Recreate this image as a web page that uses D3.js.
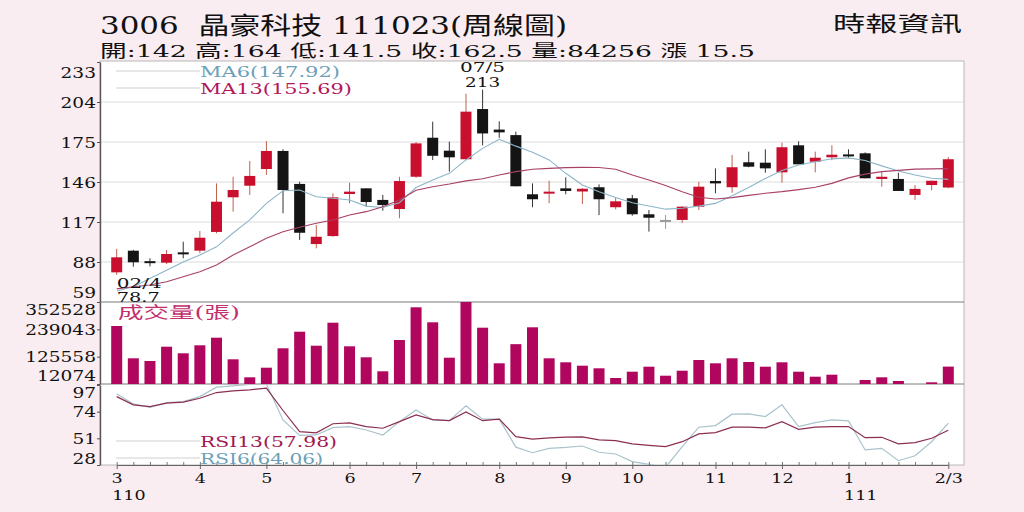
<!DOCTYPE html>
<html>
<head>
<meta charset="utf-8">
<script src="https://cdn.jsdelivr.net/npm/d3@7"></script>
<style>
    html, body { margin: 0; padding: 0; background: #f9edf1; }
    svg { display: block; }
</style>
</head>
<body>
<div class="svg-container"></div>
<script>
// Weekly candles, oldest first
const opens  = [80.5, 96.2, 88.6, 87.5, 95.0, 96.2, 109.8, 134.9, 143.3, 155.4,
                168.5, 144.6, 101, 106.8, 137.3, 141.4, 133, 126.4, 149.8, 178.1,
                168.7, 162.5, 198.9, 184, 180, 137.1, 137.8, 141.4, 139.1, 142.2,
                127.7, 134.2, 122.6, 118.5, 118.5, 128.1, 146.7, 142.2, 160.3, 160,
                153, 172.6, 160.7, 163.9, 166, 166.8, 148.2, 148.2, 136.6, 143.8, 142];
const highs  = [97.5, 96.8, 90.7, 96.7, 102.7, 110.5, 145, 149.8, 161.2, 175.7,
                169.7, 146.2, 114.8, 137.8, 145.5, 141.4, 136.6, 149.8, 175, 189.7,
                175.2, 210, 213, 190, 182.5, 145, 146.9, 149.4, 141.5, 144.3,
                134.4, 136.6, 125.7, 122, 128.5, 146.2, 155.9, 165.6, 168, 169.7,
                174.5, 175.5, 168, 172.6, 169.7, 167.5, 153.5, 152.7, 143.8, 147, 164];
const lows   = [78.7, 84.6, 84.8, 86.5, 90.7, 94.3, 108.8, 124.5, 136.6, 151.1,
                123.3, 104, 97.9, 106.3, 130.6, 128, 125.2, 119.7, 149, 161.9,
                153.5, 161.9, 172.6, 178, 142.9, 127.7, 130.6, 137.1, 130, 122,
                126.2, 121.6, 110, 112, 116.3, 125.7, 137.8, 138.2, 156.7, 152.7,
                145.5, 158.8, 153, 161.9, 163.2, 148.7, 142.6, 139.5, 133, 140, 141.5];
const closes = [91.4, 87.8, 88.0, 93.8, 94.4, 105.6, 131.7, 140.2, 150.4, 168.5,
                140.2, 109.2, 106.3, 134.9, 139, 131.5, 129.3, 146.7, 174, 165,
                163.9, 197, 181.2, 182, 142.9, 133.5, 139, 139.5, 141.1, 133.5,
                132, 122.6, 120.1, 118.5, 128.1, 142.6, 145, 156.7, 157.1, 155.9,
                171.2, 158.8, 163.6, 165.8, 165, 148.7, 149.8, 139.5, 141, 146.9, 162.5];

// Volume (張)
const volumes = [252890, 118780, 107570, 166940, 139540, 172750, 204300, 114630, 39890, 79750,
                 160300, 229220, 171090, 266580, 168600, 122930, 64800, 194760, 330530, 268240,
                 121270, 352528, 245830, 98020, 177500, 247490, 118780, 102170, 88050, 77260,
                 36990, 63140, 83900, 46540, 67300, 111720, 98020, 118780, 103420, 83900,
                 102170, 63140, 42380, 50690, 9800, 28680, 39890, 24530, 9500, 19130, 84256];

// Moving averages
const ma6  = [67, 70, 76, 82, 88, 93, 99, 109, 118.5, 130.5,
              139.7, 140.2, 135.3, 134.2, 133, 128.5, 127.5, 131, 142, 147.5,
              152.3, 162, 170.4, 177, 172, 167.5, 162, 152.3, 143.8, 139,
              134.7, 131, 128.6, 126.3, 127, 128.5, 130.5, 136, 142, 148.6,
              154.3, 158.3, 160.7, 162.8, 163.5, 161.6, 157.7, 154, 151.1, 148.7, 147.92];
const ma13 = [68.5, 70.1, 71.3, 73.7, 77.3, 81, 85.8, 93.1, 99.1, 105.2,
              110, 113.2, 116.1, 118.5, 122.1, 124.5, 128.1, 133, 140, 142.6,
              144.5, 146.8, 148.4, 151.1, 153.5, 155.2, 155.9, 156.4, 156.6, 156.5,
              155.3, 151.1, 147.5, 143.5, 139, 135, 133.7, 134.7, 136.3, 137.8,
              139, 140.5, 142.2, 145, 149, 151.7, 153.5, 154.4, 155.3, 155.5, 155.69];

// RSI
const rsi6  = [89.4, 80.7, 77.8, 81.8, 82.7, 87, 95.1, 96.3, 97.6, 97.8,
               66.9, 53.5, 53.9, 60.2, 61.1, 58.2, 53.9, 65.4, 75.5, 66.9,
               66.3, 79, 67.5, 67.5, 43.4, 38.6, 42.4, 43.2, 44.4, 39,
               37.5, 30.9, 28.5, 26, 43.8, 60.6, 62, 71.8, 72.1, 69.8,
               79.9, 61.1, 64.6, 66.9, 66, 41, 42.4, 31.7, 36, 48.1, 64.06];
const rsi13 = [87, 79.9, 78.4, 81.3, 82.2, 85.6, 90.5, 92, 92.8, 94.3,
               75, 56.8, 55.8, 63.6, 64.3, 61.1, 59.7, 65.4, 71.2, 67.2,
               66.3, 73.7, 66.2, 67.6, 52.5, 50.4, 51.4, 52, 52.2, 49.6,
               49, 46.2, 45, 43.8, 48.1, 54.8, 55.9, 60.6, 60.6, 60,
               65.4, 58.8, 60.6, 61.1, 61.1, 51.6, 51.9, 46.2, 47.3, 51.1, 57.98];

// Tick labels
const priceTicks  = [59, 88, 117, 146, 175, 204, 233];
const volumeTicks = [12074, 125558, 239043, 352528];
const rsiTicks    = [28, 51, 74, 97];
const monthTicks  = [0, 5, 9, 14, 18, 23, 27, 31, 36, 40, 44, 50];
const monthLabels = ['3', '4', '5', '6', '7', '8', '9', '10', '11', '12', '1', '2/3'];
const yearLabels  = ['110', '', '', '', '', '', '', '', '', '', '111', ''];

/**
 * Chart Manager
 *          draws the weekly candle chart with volume and RSI panels
 */
const chartManager = (() => {
    const SCREEN = { WIDTH: 1024, HEIGHT: 512 };
    const PLOT = { LEFT: 100, RIGHT: 964, TOP: 61, PRICE: 302, VOL: 384, RSI: 465 };
    const SERIF = '"DejaVu Serif", "Noto Sans CJK TC", serif';

    const COLOR = {
        up: '#c8102e', down: '#141414', flat: '#9a9a9a',
        upWick: '#c0604a', downWick: '#333',
        volume: '#b1065e',
        ma6: '#8bb6c8', ma13: '#a84068',
        rsi6: '#a9c3cc', rsi13: '#8c2f52'
    };

    const weeks = d3.range(closes.length);

    const x = d3.scalePoint().domain(weeks).range([116.7, 948.3]);
    const yPrice = d3.scaleLinear().domain([59, 233]).range([PLOT.PRICE, 62]);
    const yVol = d3.scaleLinear().domain([12074, 352528]).range([PLOT.VOL, PLOT.PRICE]).clamp(true);
    const yRsi = d3.scaleLinear().domain([28, 97]).range([PLOT.RSI, PLOT.VOL + 1]);

    /**
     * Stretch text horizontally, either by a factor or to an exact width
     */
    const stretch = (sel, k, width) => sel.each(function () {
        const w = width || this.getComputedTextLength() * k;
        d3.select(this).attr('textLength', w).attr('lengthAdjust', 'spacingAndGlyphs');
    });

    const addText = (g, o) => {
        const t = g.append('text')
            .attr('x', o.x).attr('y', o.y)
            .attr('font-family', o.family || SERIF)
            .attr('font-size', o.size)
            .attr('fill', o.fill || '#111')
            .attr('text-anchor', o.anchor || 'start')
            .style('white-space', 'pre')
            .text(o.text);
        stretch(t, o.k || 1, o.width);
        return t;
    };

    const initSVG = () => d3.select('.svg-container').append('svg')
        .attr('width', SCREEN.WIDTH)
        .attr('height', SCREEN.HEIGHT);

    const drawFrame = (svg) => {
        svg.append('rect').attr('width', SCREEN.WIDTH).attr('height', SCREEN.HEIGHT).attr('fill', '#f9edf1');
        svg.append('rect')
            .attr('x', PLOT.LEFT).attr('y', PLOT.TOP)
            .attr('width', PLOT.RIGHT - PLOT.LEFT).attr('height', PLOT.RSI - PLOT.TOP)
            .attr('fill', '#fff').attr('stroke', '#b8b8b8');

        // price grid
        svg.append('g').selectAll('line')
            .data(priceTicks.slice(1, -1))
            .join('line')
            .attr('x1', PLOT.LEFT).attr('x2', PLOT.RIGHT)
            .attr('y1', d => yPrice(d)).attr('y2', d => yPrice(d))
            .attr('stroke', '#dcdcdc');

        [PLOT.PRICE, PLOT.VOL].forEach(y => {
            svg.append('line').attr('x1', PLOT.LEFT).attr('x2', PLOT.RIGHT)
                .attr('y1', y).attr('y2', y).attr('stroke', '#7a7a7a');
        });
    };

    /**
     * Left axis with labels kept inside each panel
     */
    const drawLeftAxis = (svg, scale, ticks, lo, hi) => {
        const g = svg.append('g')
            .attr('transform', `translate(${PLOT.LEFT},0)`)
            .call(d3.axisLeft(scale).tickValues(ticks).tickFormat(d3.format('d'))
                .tickSize(3).tickSizeOuter(0).tickPadding(1));
        g.select('.domain').attr('stroke', '#555').attr('stroke-width', 1.4);
        g.selectAll('.tick line').attr('stroke', '#555');
        g.selectAll('.tick text')
            .attr('font-family', SERIF).attr('font-size', 14.5).attr('fill', '#111')
            .attr('dy', 0)
            .attr('y', d => Math.max(lo, Math.min(hi, scale(d) + 5)) - scale(d))
            .call(stretch, 1.28);
    };

    const drawBottomAxis = (svg) => {
        const minor = svg.append('g')
            .attr('transform', `translate(0,${PLOT.RSI})`)
            .call(d3.axisBottom(x).tickValues(weeks).tickFormat('').tickSize(-3).tickSizeOuter(0));
        minor.select('.domain').attr('stroke', '#666').attr('stroke-width', 1.2);
        minor.selectAll('.tick line').attr('stroke', '#777');

        const major = svg.append('g')
            .attr('transform', `translate(0,${PLOT.RSI})`)
            .call(d3.axisBottom(x).tickValues(monthTicks)
                .tickFormat((d, i) => monthLabels[i]).tickSize(4).tickPadding(6));
        major.select('.domain').remove();
        major.selectAll('.tick line').attr('stroke', '#666');
        major.selectAll('.tick text')
            .attr('font-family', SERIF).attr('font-size', 13.5).attr('fill', '#111')
            .attr('dy', 0).attr('y', 18)
            .call(stretch, 1.3);

        major.selectAll('.tick')
            .filter((d, i) => yearLabels[i])
            .append('text')
            .attr('x', -5).attr('y', 34.5)
            .attr('font-family', SERIF).attr('font-size', 13.5).attr('fill', '#111')
            .attr('text-anchor', 'start')
            .text((d) => yearLabels[monthTicks.indexOf(d)])
            .call(stretch, 1.3);
    };

    const drawCandles = (svg) => {
        const dir = i => closes[i] > opens[i] ? 'up' : (closes[i] < opens[i] ? 'down' : 'flat');
        const g = svg.append('g').selectAll('g').data(weeks).join('g');

        g.append('line')
            .attr('x1', i => x(i)).attr('x2', i => x(i))
            .attr('y1', i => yPrice(highs[i])).attr('y2', i => yPrice(lows[i]))
            .attr('stroke', i => dir(i) === 'up' ? COLOR.upWick : (dir(i) === 'down' ? COLOR.downWick : COLOR.flat))
            .attr('stroke-width', 1);

        g.append('rect')
            .attr('x', i => x(i) - 5.5).attr('width', 11)
            .attr('y', i => yPrice(Math.max(opens[i], closes[i])))
            .attr('height', i => Math.max(2, Math.abs(yPrice(opens[i]) - yPrice(closes[i]))))
            .attr('fill', i => COLOR[dir(i)]);
    };

    const drawLine = (g, values, scale, color, width) => {
        g.append('path')
            .datum(weeks)
            .attr('d', d3.line().x(i => x(i)).y(i => scale(values[i])))
            .attr('fill', 'none')
            .attr('stroke', color)
            .attr('stroke-width', width || 1.1);
    };

    const drawVolume = (svg) => {
        svg.append('g').selectAll('rect').data(weeks).join('rect')
            .attr('x', i => x(i) - 5.5).attr('width', 11)
            .attr('y', i => yVol(volumes[i]))
            .attr('height', i => PLOT.VOL - yVol(volumes[i]))
            .attr('fill', COLOR.volume);
    };

    const drawRsi = (svg) => {
        svg.append('clipPath').attr('id', 'rsi-clip')
            .append('rect')
            .attr('x', PLOT.LEFT).attr('y', PLOT.VOL + 1)
            .attr('width', PLOT.RIGHT - PLOT.LEFT).attr('height', PLOT.RSI - PLOT.VOL - 1);
        const g = svg.append('g').attr('clip-path', 'url(#rsi-clip)');
        drawLine(g, rsi6, yRsi, COLOR.rsi6, 1.2);
        drawLine(g, rsi13, yRsi, COLOR.rsi13, 1.2);
    };

    const drawLegends = (svg) => {
        const legend = [
            { y: 71, base: 77, text: 'MA6(147.92)', fill: '#6d9fb9', width: 140 },
            { y: 88, base: 94, text: 'MA13(155.69)', fill: '#b3165b', width: 152 },
            { y: 441, base: 447, text: 'RSI13(57.98)', fill: '#a1174f', width: 137 },
            { y: 458, base: 464, text: 'RSI6(64.06)', fill: '#6d9fb9', width: 123 }
        ];
        legend.forEach(l => {
            svg.append('line').attr('x1', 116).attr('x2', 200)
                .attr('y1', l.y).attr('y2', l.y).attr('stroke', '#cfcfcf');
            addText(svg, { x: 200, y: l.base, text: l.text, size: 14, fill: l.fill, width: l.width });
        });

        addText(svg, { x: 118, y: 318, text: '成交量(張)', size: 16, fill: '#c2306e', width: 122 });

        // high / low notes
        addText(svg, { x: x(22), y: 72, text: '07/5', size: 13, anchor: 'middle', width: 45 });
        addText(svg, { x: x(22), y: 87, text: highs[22], size: 13, anchor: 'middle', width: 35 });
        addText(svg, { x: x(0), y: 288, text: '02/4', size: 13, width: 45 });
        addText(svg, { x: x(0), y: 302, text: lows[0], size: 13, width: 43 });
    };

    const drawTitle = (svg) => {
        addText(svg, { x: 100, y: 34, text: '3006  晶豪科技 111023(周線圖)', size: 24, width: 467 });
        addText(svg, { x: 100, y: 57, text: '開:142 高:164 低:141.5 收:162.5 量:84256 漲 15.5', size: 17.5, width: 655 });
        addText(svg, { x: 833, y: 31, text: '時報資訊', size: 21, width: 129 });
    };

    const init = () => {
        const svg = initSVG();
        drawFrame(svg);
        drawTitle(svg);

        drawCandles(svg);
        const maGroup = svg.append('g');
        drawLine(maGroup, ma6, yPrice, COLOR.ma6);
        drawLine(maGroup, ma13, yPrice, COLOR.ma13);

        drawVolume(svg);
        drawRsi(svg);

        drawLeftAxis(svg, yPrice, priceTicks, 77, 297);
        drawLeftAxis(svg, yVol, volumeTicks, 314.5, 380.5);
        drawLeftAxis(svg, yRsi, rsiTicks, 397.5, 463);
        drawBottomAxis(svg);
        drawLegends(svg);
    };

    return {
        init: init
    };
})();

chartManager.init();
</script>
</body>
</html>
